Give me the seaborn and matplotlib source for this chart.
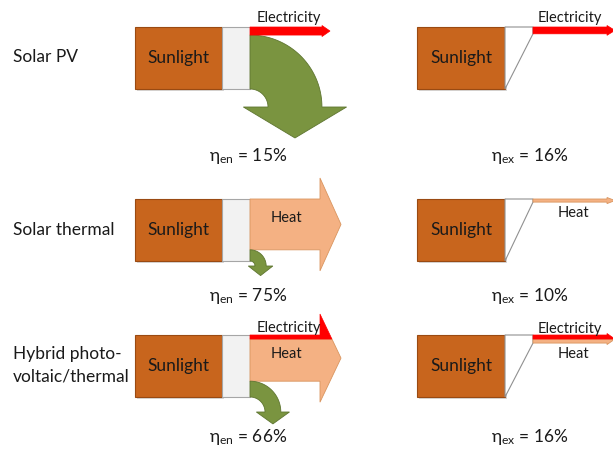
import numpy as np
import matplotlib
matplotlib.use("Agg")
import matplotlib.pyplot as plt
import seaborn as sns
from matplotlib.patches import Polygon, Rectangle

# --- data ---
systems = ["Solar PV", "Solar thermal", "Hybrid photo-\nvoltaic/thermal"]
eta_en = [15, 75, 66]          # energy efficiency, %
eta_ex = [16, 10, 16]          # exergy efficiency, %
# flow shares of the sunlight input as drawn (fraction of input)
elec_en = [0.13, 0.0, 0.065]
heat_en = [0.0, 0.82, 0.68]
elec_ex = [0.11, 0.0, 0.065]
heat_ex = [0.0, 0.05, 0.065]

sns.set_theme(style="white")
plt.rcParams['font.family'] = ['Lato', 'DejaVu Sans']
plt.rcParams['mathtext.fontset'] = 'custom'
plt.rcParams['mathtext.rm'] = 'Lato'
plt.rcParams['mathtext.it'] = 'Lato:italic'

SUN, SUN_EDGE = "#C8651D", "#9A4A12"
COLL, COLL_EDGE = "#F2F2F2", "#A6A6A6"
RED = "#FF0000"
HEAT, HEAT_EDGE = "#F4B183", "#D9955F"
LOSS, LOSS_EDGE = "#7A9440", "#5E7530"

H = 62  # height of sunlight box (px)
row_top = [27, 199, 335]
eta_y = [156, 296, 437]
label_y = [57, 230, 365]
loss_r_in = [18, 5, 15]

fig = plt.figure(figsize=(6.13, 4.51), dpi=100)
ax = fig.add_axes([0, 0, 1, 1])
ax.set_xlim(0, 613)
ax.set_ylim(451, 0)
ax.axis("off")


def clip(poly, yb, keep_above):
    out = []
    n = len(poly)
    for i in range(n):
        p, q = poly[i], poly[(i + 1) % n]
        inp = p[1] <= yb if keep_above else p[1] >= yb
        inq = q[1] <= yb if keep_above else q[1] >= yb
        if inp:
            out.append(p)
        if inp != inq:
            t = (yb - p[1]) / (q[1] - p[1])
            out.append((p[0] + t * (q[0] - p[0]), yb))
    return out


def flow_arrow(x_start, top, e, h, shaft_end, tip, ext):
    y_bot = top + e + h
    ymid = (top + y_bot) / 2
    poly = [(x_start, top), (shaft_end, top), (shaft_end, top - ext), (tip, ymid),
            (shaft_end, y_bot + ext), (shaft_end, y_bot), (x_start, y_bot)]
    if e > 0:
        part = clip(poly, top + e, True) if h > 0 else poly
        ax.add_patch(Polygon(part, closed=True, fc=RED, ec=RED, lw=0.5, zorder=3))
    if h > 0:
        part = clip(poly, top + e, False) if e > 0 else poly
        ax.add_patch(Polygon(part, closed=True, fc=HEAT, ec=HEAT_EDGE, lw=0.6, zorder=2))


def sunlight(x0, x1, top):
    ax.add_patch(Rectangle((x0 + 2, top + 2), x1 - x0, H, fc="#D8D8D8", ec="none", zorder=0))
    ax.add_patch(Rectangle((x0, top), x1 - x0, H, fc=SUN, ec=SUN_EDGE, lw=0.8, zorder=1))
    ax.text((x0 + x1) / 2, top + H / 2, "Sunlight", ha="center", va="center",
            fontsize=12.5, color="#1A1A1A", zorder=4)


for i in range(3):
    top = row_top[i]

    # ---------- energy column ----------
    sunlight(135, 222, top)
    ax.add_patch(Rectangle((222, top), 28, H, fc=COLL, ec=COLL_EDGE, lw=0.8, zorder=1))
    e, h = elec_en[i] * H, heat_en[i] * H
    w = H - e - h
    if e + h > 15:
        flow_arrow(250, top, e, h, 320, 341, 21)
    else:
        flow_arrow(250, top, e, h, 322, 330, 1.5)

    # loss arrow (curving down)
    r_in = loss_r_in[i]
    r_out = r_in + w
    cx, cy = 250, top + H + r_in
    th = np.linspace(np.pi / 2, 0, 40)
    outer = [(cx + r_out * np.cos(t), cy - r_out * np.sin(t)) for t in th]
    inner = [(cx + r_in * np.cos(t), cy - r_in * np.sin(t)) for t in th[::-1]]
    ext = 0.42 * w + 2
    depth = 0.5 * w + 4
    head = [(cx + r_out + ext, cy), (cx + (r_in + r_out) / 2, cy + depth), (cx + r_in - ext, cy)]
    ax.add_patch(Polygon(outer + head + inner, closed=True, fc=LOSS, ec=LOSS_EDGE,
                         lw=0.6, zorder=2))

    if e > 0:
        ax.text(289, top - 9 if h == 0 else top - 7, "Electricity", ha="center",
                va="center", fontsize=10.5, color="#1A1A1A", zorder=4)
    if h > 0:
        ax.text(286, top + e + h / 2 - 6, "Heat", ha="center", va="center",
                fontsize=10.5, color="#1A1A1A", zorder=4)
    ax.text(248, eta_y[i], r"η$_{\mathrm{en}}$ = %d%%" % eta_en[i], ha="center",
            va="center", fontsize=12.5, color="#1A1A1A")

    # ---------- exergy column ----------
    sunlight(417, 505, top)
    e, h = elec_ex[i] * H, heat_ex[i] * H
    ax.add_patch(Polygon([(505, top), (533, top), (533, top + e + h), (505, top + H)],
                         closed=True, fc="white", ec="#909090", lw=0.8, zorder=1))
    flow_arrow(533, top, e, h, 607, 615, 1.5)
    if e > 0:
        ax.text(570, top - 9 if h == 0 else top - 6, "Electricity", ha="center",
                va="center", fontsize=10.5, color="#1A1A1A", zorder=4)
    if h > 0:
        ax.text(573, top + e + h + 11, "Heat", ha="center", va="center",
                fontsize=10.5, color="#1A1A1A", zorder=4)
    ax.text(530, eta_y[i], r"η$_{\mathrm{ex}}$ = %d%%" % eta_ex[i], ha="center",
            va="center", fontsize=12.5, color="#1A1A1A")

    # system label
    ax.text(13, label_y[i], systems[i], ha="left", va="center", fontsize=12.5,
            color="#1A1A1A", linespacing=1.5)

fig.savefig("out.png", dpi=100)
